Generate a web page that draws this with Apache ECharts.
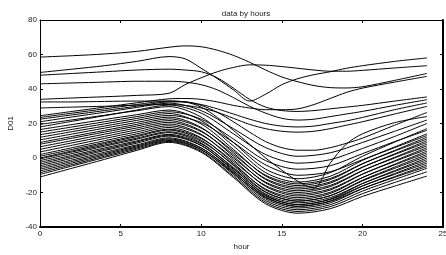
<!DOCTYPE html>
<html lang="en">
<head>
<meta charset="UTF-8">
<title>data by hours</title>
<script src="https://cdn.jsdelivr.net/npm/echarts@6/dist/echarts.min.js"></script>
<style>
  html, body { margin: 0; padding: 0; background: #fff; }
  #main { width: 446px; height: 255px; }
</style>
</head>
<body>
<div id="main"></div>
<script>
// hours the values were read at
var hoursCoarse = [0, 2, 4, 6, 8, 10, 12, 14, 16, 18, 20, 22, 24];
var hoursFine = [0, 2, 4, 6, 8, 9, 10, 11, 12, 13, 14, 15, 16, 17, 18, 19, 20, 22, 24];

// the main bundle of curves (read at hoursCoarse)
var b01 = [21, 23.8, 26.5, 29.3, 31.8, 27.5, 17, 6, 1, 3, 9, 15.5, 22];
var b02 = [19.5, 22.1, 24.8, 27.4, 29.8, 23.7, 9, -6.5, -12, -8.5, 1, 9.2, 17];
var b03 = [18, 21.3, 24.5, 27.8, 30.7, 26, 14, 2, -3, -1, 5.5, 12.5, 20];
var b04 = [16.5, 19.4, 22.3, 25.1, 27.8, 21.7, 7, -8.5, -14, -10.6, -1.4, 6.4, 14];
var b05 = [15, 18, 21, 24, 26.8, 22.5, 11, -1.5, -6.5, -4.5, 2.5, 9.5, 16];
var b06 = [13.5, 16.6, 19.8, 22.9, 25.8, 19.7, 5, -10.5, -16, -12.6, -3.4, 4.4, 12];
var b07 = [12, 15.3, 18.5, 21.8, 24.7, 20.5, 9, -4, -10, -8, -1, 6, 13];
var b08 = [10.5, 13.9, 17.3, 20.6, 23.7, 17.7, 3, -12.5, -18, -14.6, -5.4, 2.4, 10];
var b09 = [9, 12.5, 16, 19.5, 22.7, 17.3, 4, -10, -15, -11.9, -3.3, 4, 11];
var b10 = [8, 11.5, 15, 18.5, 21.7, 15.7, 1, -14.5, -20, -16.6, -7.4, 0.4, 8];
var b11 = [6.5, 10.1, 13.8, 17.4, 20.7, 15.3, 2, -12, -17, -13.9, -5.3, 2, 9];
var b12 = [5, 8.8, 12.5, 16.3, 19.7, 13.7, -1, -16.5, -22, -18.6, -9.4, -1.6, 6];
var b13 = [3.5, 7.4, 11.3, 15.1, 18.7, 13.3, 0, -14, -19, -15.9, -7.3, 0, 7];
var b14 = [2, 6, 10, 14, 17.7, 11.7, -3, -18.5, -24, -20.6, -11.4, -3.6, 4];
var b15 = [1, 5, 9, 13, 16.7, 11.3, -2, -16, -21, -17.9, -9.3, -2, 5];
var b16 = [0, 4.1, 8.3, 12.4, 16.2, 10.3, -4.3, -19.6, -25, -21.8, -12.9, -5.3, 2];
var b17 = [-0.5, 3.5, 7.5, 11.5, 15.2, 9.7, -3.8, -18, -23, -19.9, -11.3, -4, 3];
var b18 = [-1.5, 2.6, 6.8, 10.9, 14.7, 8.7, -6, -21.5, -27, -23.8, -14.9, -7.3, 0];
var b19 = [-2.5, 1.6, 5.8, 9.9, 13.7, 8.2, -5.5, -19.9, -25, -21.9, -13.3, -6, 1];
var b20 = [-3.5, 0.8, 5, 9.3, 13.2, 7.3, -7.3, -22.6, -28, -24.9, -16.3, -9, -2];
var b21 = [-4.5, -0.1, 4.3, 8.6, 12.7, 7.2, -6.5, -20.9, -26, -23, -14.8, -7.8, -1];
var b22 = [-5.5, -1.1, 3.3, 7.6, 11.7, 5.9, -8.5, -23.7, -29, -26, -17.8, -10.8, -4];
var b23 = [-6.5, -2, 2.5, 7, 11.1, 5.7, -7.8, -22, -27, -24.1, -16.2, -9.5, -3];
var b24 = [-7.5, -2.9, 1.8, 6.4, 10.6, 4.9, -9.5, -24.7, -30, -27.1, -19.2, -12.5, -6];
var b25 = [-8.5, -3.8, 1, 5.8, 10.1, 4.7, -8.8, -23, -28, -25.2, -17.7, -11.2, -5];
var b26 = [-9.5, -4.6, 0.3, 5.1, 9.6, 3.9, -10.5, -25.7, -31, -28.2, -20.7, -14.2, -8];
var b27 = [-11, -5.9, -0.8, 4.4, 9.1, 3.3, -11.3, -26.6, -32, -29.4, -22.3, -16.3, -10.5];

// the odd ones on top (read at hoursFine)
var t01 = [58.5, 59.3, 60.3, 61.8, 64.2, 65, 64.5, 62.5, 59.5, 55.5, 51, 47, 44.2, 42, 40.8, 40.6, 41.3, 45, 49];
var t02 = [49.6, 51.5, 53.5, 56, 58.8, 57.5, 52, 46, 39.5, 33, 37, 42.5, 46, 48.3, 50, 52, 53.5, 56, 58];
var t03 = [48, 49, 50, 51, 51.5, 51, 50, 46.5, 40.5, 34, 29.5, 27.5, 27, 27.5, 28.5, 29.5, 30.5, 33, 35.4];
var t04 = [43, 43.5, 44, 44.5, 44.5, 44, 42.5, 39.5, 35, 30, 26, 23, 22, 22.5, 24, 25.5, 27, 30.5, 33.8];
var t05 = [34, 34.8, 35.5, 36.3, 37.5, 42.5, 46.5, 50, 52.5, 54, 53.8, 53, 52, 51, 50.3, 50.3, 50.8, 52.2, 53.5];
var t06 = [32.5, 32.5, 32.8, 33, 33, 32.5, 31, 28.5, 25.5, 22.5, 20, 18.5, 18, 18.5, 20, 21.5, 23.5, 28, 31.9];
var t07 = [29, 29.5, 30, 30.6, 31, 30.5, 29, 26.5, 23, 19.5, 17, 15.5, 15, 15.5, 17, 19, 21, 25.5, 29.9];
var t08 = [24.5, 27, 29.5, 32, 34.3, 34.5, 34, 32.5, 30.5, 29, 28, 28, 28.5, 31, 34.5, 38, 40.5, 44, 47.3];
var t09 = [23.5, 26, 28.5, 31, 33, 32.5, 29.5, 23.5, 16, 8, 0, -7, -13.5, -17.5, -3, 8, 14, 20.5, 24];
var t10 = [22.5, 25, 27.5, 30, 32.5, 32.5, 30.5, 26.5, 21, 15, 9.5, 6, 4.5, 4.5, 6, 8.5, 11.5, 19, 26.4];

var bundle = [b01, b02, b03, b04, b05, b06, b07, b08, b09, b10, b11, b12, b13, b14,
              b15, b16, b17, b18, b19, b20, b21, b22, b23, b24, b25, b26, b27];
var toplines = [t01, t02, t03, t04, t05, t06, t07, t08, t09, t10];

var xTicks = { min: 0, max: 25, interval: 5 };
var yTicks = { min: -40, max: 80, interval: 20 };

function pairs(hours, vals) {
    return vals.map(function (v, i) { return [hours[i], v]; });
}

var series = [];
bundle.forEach(function (vals) {
    series.push({ type: 'line', data: pairs(hoursCoarse, vals) });
});
toplines.forEach(function (vals) {
    series.push({ type: 'line', data: pairs(hoursFine, vals) });
});
series.forEach(function (s) {
    s.smooth = 0.3;
    s.showSymbol = false;
    s.symbol = 'none';
    s.silent = true;
    s.lineStyle = { color: '#000', width: 1 };
});

var font = 'Liberation Sans';
var chart = echarts.init(document.getElementById('main'));
chart.setOption({
    animation: false,
    backgroundColor: '#fff',
    title: {
        text: 'data by hours',
        left: 241,
        textAlign: 'center',
        top: 5,
        textStyle: { fontSize: 8, fontWeight: 'normal', color: '#222', fontFamily: font }
    },
    grid: { left: 40, right: 3, top: 20, bottom: 28, outerBoundsMode: 'none' },
    xAxis: [{
        type: 'value',
        min: xTicks.min, max: xTicks.max, interval: xTicks.interval,
        name: 'hour', nameLocation: 'middle', nameGap: 14,
        nameTextStyle: { fontSize: 8, color: '#222', fontFamily: font },
        axisLine: { onZero: false, lineStyle: { color: '#000', width: 2 } },
        axisTick: { inside: true, length: 3, lineStyle: { color: '#000' } },
        axisLabel: { fontSize: 8, color: '#222', margin: 3, fontFamily: font },
        splitLine: { show: false }
    }, {
        type: 'value', position: 'top',
        min: xTicks.min, max: xTicks.max, interval: xTicks.interval,
        axisLine: { onZero: false, lineStyle: { color: '#000', width: 1 } },
        axisTick: { inside: true, length: 3, lineStyle: { color: '#000' } },
        axisLabel: { show: false },
        splitLine: { show: false }
    }],
    yAxis: [{
        type: 'value',
        min: yTicks.min, max: yTicks.max, interval: yTicks.interval,
        name: 'D01', nameLocation: 'middle', nameGap: 25, nameRotate: 90,
        nameTextStyle: { fontSize: 8, color: '#222', fontFamily: font },
        axisLine: { onZero: false, lineStyle: { color: '#000', width: 1 } },
        axisTick: { inside: true, length: 3, lineStyle: { color: '#000' } },
        axisLabel: { fontSize: 8, color: '#222', margin: 3, fontFamily: font },
        splitLine: { show: false }
    }, {
        type: 'value', position: 'right',
        min: yTicks.min, max: yTicks.max, interval: yTicks.interval,
        axisLine: { onZero: false, lineStyle: { color: '#000', width: 2 } },
        axisTick: { inside: true, length: 3, lineStyle: { color: '#000' } },
        axisLabel: { show: false },
        splitLine: { show: false }
    }],
    series: series
});
</script>
</body>
</html>
